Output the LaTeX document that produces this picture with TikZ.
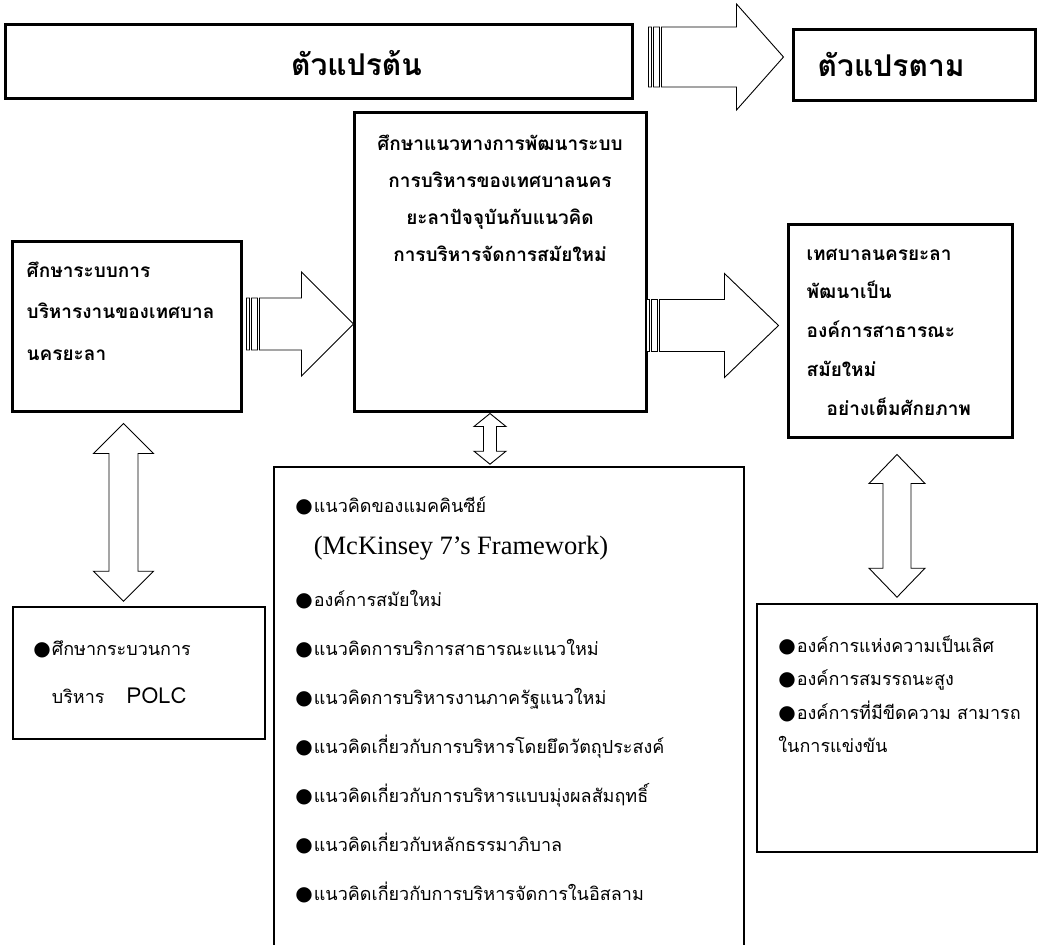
\documentclass[tikz,border=0pt]{standalone}
\usepackage{fontspec}
\setmainfont{Liberation Serif}
\newfontfamily\thai[Script=Thai]{Loma}
\newfontfamily\symb{DejaVu Sans}
\newfontfamily\timesf{Liberation Serif}
\usetikzlibrary{positioning,calc}

\newcommand{\bul}{{\symb\fontsize{20}{20}\selectfont ●}\kern1pt}
\newcommand{\nobul}{\hphantom{\bul}}

% striped block arrow: start, tip, body half, head half, head length
\newcommand{\stripearrow}[5]{%
  \draw[blockarrow] let \p1=(#1), \p2=(#2) in
    (\x1,\y1+#3) rectangle (\x1+3,\y1-#3)
    (\x1+5,\y1+#3) rectangle (\x1+11,\y1-#3)
    (\x1+13,\y1+#3) -- (\x2-#5,\y1+#3) -- (\x2-#5,\y1+#4) -- (\x2,\y1)
    -- (\x2-#5,\y1-#4) -- (\x2-#5,\y1-#3) -- (\x1+13,\y1-#3) -- cycle;}
% up-down block arrow: top tip, bottom tip, shaft half, head half, head length
\newcommand{\dblarrow}[5]{%
  \draw[blockarrow] let \p1=(#1), \p2=(#2) in
    (\x1,\y1) -- (\x1+#4,\y1-#5) -- (\x1+#3,\y1-#5) -- (\x1+#3,\y2+#5)
    -- (\x1+#4,\y2+#5) -- (\x1,\y2) -- (\x1-#4,\y2+#5) -- (\x1-#3,\y2+#5)
    -- (\x1-#3,\y1-#5) -- (\x1-#4,\y1-#5) -- cycle;}

\tikzset{
  box/.style={draw,line width=3pt,inner sep=0pt},
  listbox/.style={draw,line width=1.6pt,inner sep=0pt},
  blockarrow/.style={draw,line width=0.9pt,fill=white},
  headtxt/.style={inner sep=0pt,font=\thai\bfseries\fontsize{30}{34}\selectfont},
  boldtxt/.style={inner sep=0pt,font=\thai\bfseries\fontsize{19}{#1}\selectfont},
  listtxt/.style={inner sep=0pt,align=left,font=\thai\fontsize{18}{#1}\selectfont}
}

\begin{document}
\begin{tikzpicture}[x=1pt,y=-1pt]
  \useasboundingbox[fill=white] (0,0) rectangle (1042,945);

  % variable headers
  \node[box,minimum width=627pt,minimum height=74pt] (indep) at (318.5,61) {};
  \node[headtxt] (indep-t) at ($(indep.center)+(38,2)$) {ตัวแปรต้น};
  \node[box,minimum width=242pt,minimum height=71pt] (dep) at (914,64.5) {};
  \node[headtxt,right=26pt of dep.west] (dep-t) {ตัวแปรตาม};

  % main boxes
  \node[box,minimum width=229pt,minimum height=170pt] (study) at (126.5,326) {};
  \node[box,minimum width=292pt,minimum height=299pt] (guide) at (500,261.5) {};
  \node[box,minimum width=224pt,minimum height=213pt] (goal) at (900,330.5) {};

  \node[boldtxt=41.5,align=left,below right=22pt and 16pt of study.north west] (study-t)
    {ศึกษาระบบการ\\บริหารงานของเทศบาล\\นครยะลา};
  \node[boldtxt=37,align=center,anchor=north] (guide-t) at ($(guide.north)+(0,24)$)
    {ศึกษาแนวทางการพัฒนาระบบ\\การบริหารของเทศบาลนคร\\ยะลาปัจจุบันกับแนวคิด\\การบริหารจัดการสมัยใหม่};
  \node[boldtxt=38.75,align=left,below right=26pt and 20pt of goal.north west] (goal-t)
    {เทศบาลนครยะลา\\พัฒนาเป็น\\องค์การสาธารณะ\\สมัยใหม่\\\hspace*{20pt}อย่างเต็มศักยภาพ};

  % lower boxes
  \node[listbox,minimum width=252pt,minimum height=132pt] (polc) at (139,673) {};
  \node[listbox,minimum width=470pt,minimum height=493pt] (concepts) at (509,713.5) {};
  \node[listbox,minimum width=280pt,minimum height=248pt] (traits) at (897,728) {};

  \node[listtxt=48,below right=34pt and 21pt of polc.north west] (polc-t)
    {\bul ศึกษากระบวนการ\\\nobul บริหาร\hspace{22pt}{\fontsize{22}{22}\selectfont POLC}};
  \node[listtxt=49,below right=30pt and 22pt of concepts.north west] (concepts-t)
    {\bul แนวคิดของแมคคินซีย์\\[-7pt]
     \nobul{\timesf\fontsize{26.5}{30}\selectfont (McKinsey 7’s Framework)}\\[3pt]
     \bul องค์การสมัยใหม่\\
     \bul แนวคิดการบริการสาธารณะแนวใหม่\\
     \bul แนวคิดการบริหารงานภาครัฐแนวใหม่\\
     \bul แนวคิดเกี่ยวกับการบริหารโดยยึดวัตถุประสงค์\\
     \bul แนวคิดเกี่ยวกับการบริหารแบบมุ่งผลสัมฤทธิ์\\
     \bul แนวคิดเกี่ยวกับหลักธรรมาภิบาล\\
     \bul แนวคิดเกี่ยวกับการบริหารจัดการในอิสลาม};
  \node[listtxt=33.5,below right=32pt and 22pt of traits.north west] (traits-t)
    {\bul องค์การแห่งความเป็นเลิศ\\
     \bul องค์การสมรรถนะสูง\\
     \bul องค์การที่มีขีดความ สามารถ\\
     ในการแข่งขัน};

  % block arrows
  \stripearrow{$(indep.east)+(15,-4)$}{$(dep.west)+(-8,0)$}{30}{53}{47}
  \stripearrow{$(study.east)+(4,-2)$}{$(guide.west)+(1,0)$}{26}{52}{52}
  \stripearrow{$(guide.east)+(-1,64)$}{$(goal.west)+(-8,0)$}{26}{52}{54}

  \dblarrow{$(study.south)+(-3,11)$}{$(polc.north)+(0,-5)$}{14.5}{30}{30}
  \dblarrow{$(guide.south)+(-10,1)$}{$(concepts.north)+(0,-2)$}{6.5}{16}{13}
  \dblarrow{$(goal.south)+(-3,16)$}{$(traits.north)+(0,-6)$}{14}{28}{29}
\end{tikzpicture}
\end{document}
